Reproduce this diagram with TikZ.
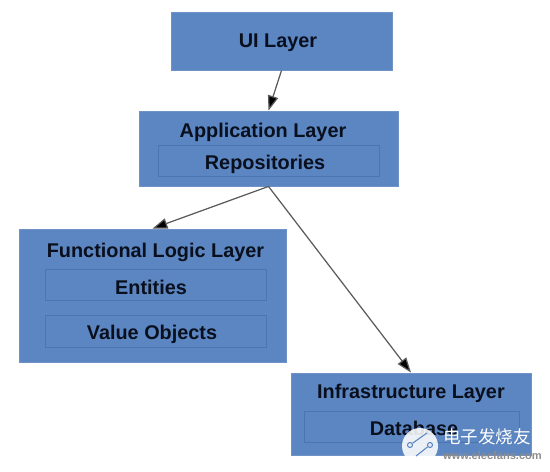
\documentclass[tikz,border=0pt]{standalone}
\usepackage{fontspec}
\setmainfont{Liberation Sans}
\newfontfamily\cjkfont{Noto Sans CJK SC}
\usetikzlibrary{arrows.meta}
\definecolor{layerBlue}{HTML}{5B86C1}
\definecolor{layerEdge}{HTML}{6F93C6}
\definecolor{innerEdge}{HTML}{4A75AE}
\definecolor{labelInk}{HTML}{0A0F1E}
\definecolor{linkGray}{HTML}{5A5A5A}
\tikzset{
  layerbox/.style={draw=layerEdge, fill=layerBlue, line width=0.5pt, inner sep=0pt},
  innerbox/.style={draw=innerEdge, line width=0.5pt, inner sep=0pt},
  layertext/.style={font=\fontsize{11.3}{13}\selectfont\bfseries, text=labelInk, inner sep=0pt},
  link/.style={draw=linkGray, line width=0.7pt, -{Triangle[length=8.5pt, width=6pt, fill=black]}}
}
\begin{document}
\begin{tikzpicture}[x=0.02cm, y=-0.02cm]
  \useasboundingbox (0,0) rectangle (550,472);
  % layers
  \node[layerbox, minimum width=221*0.02cm, minimum height=58*0.02cm] (ui) at (281.5,41) {};
  \node[layerbox, minimum width=259*0.02cm, minimum height=75*0.02cm] (app) at (268.5,148.5) {};
  \node[layerbox, minimum width=267*0.02cm, minimum height=133*0.02cm] (func) at (152.5,295.5) {};
  \node[layerbox, minimum width=240*0.02cm, minimum height=82*0.02cm] (infra) at (411,414) {};
  % inner boxes
  \node[innerbox, minimum width=221*0.02cm, minimum height=31*0.02cm] (repo) at (268.5,160.5) {};
  \node[innerbox, minimum width=221*0.02cm, minimum height=31*0.02cm] (entities) at (155.5,284.5) {};
  \node[innerbox, minimum width=221*0.02cm, minimum height=32*0.02cm] (values) at (155.5,331) {};
  \node[innerbox, minimum width=215*0.02cm, minimum height=31*0.02cm] (db) at (411.5,426.5) {};
  % labels
  \node[layertext] (uitext) at (278,43) {UI Layer};
  \node[layertext] (apptitle) at (263,132.5) {Application Layer};
  \node[layertext] (repotext) at (265,164.5) {Repositories};
  \node[layertext] (functitle) at (155.5,252.5) {Functional Logic Layer};
  \node[layertext] (entitiestext) at (151,287.5) {Entities};
  \node[layertext] (valuestext) at (152,334.5) {Value Objects};
  \node[layertext] (infratitle) at (411,393.5) {Infrastructure Layer};
  \node[layertext] (dbtext) at (414,428.5) {Database};
  % links
  \draw[link] (ui.south) -- (app.north);
  \draw[link] (app.south) -- (func.north);
  \draw[link] (app.south) -- (infra.north);
  % watermark
  \node[circle, fill=white, fill opacity=0.88, minimum size=36*0.02cm, inner sep=0pt] (mark) at (420,446) {};
  \node[circle, draw=layerBlue, line width=0.6pt, minimum size=5*0.02cm, inner sep=0pt] (markA) at (410,445) {};
  \node[circle, draw=layerBlue, line width=0.6pt, minimum size=5*0.02cm, inner sep=0pt] (markB) at (430,445) {};
  \coordinate (markC) at (427,433);
  \coordinate (markD) at (416,456);
  \draw[layerBlue, line width=0.6pt] (markA) -- (markC);
  \draw[layerBlue, line width=0.6pt] (markB) -- (markD);
  \node[font=\cjkfont\fontsize{10}{12}\selectfont, text=white, inner sep=0pt] (marktext) at (487,437) {电子发烧友};
  \node[font=\fontsize{6.3}{8}\selectfont\bfseries, text=black!45, inner sep=0pt] (markurl) at (492.5,456) {www.elecfans.com};
\end{tikzpicture}
\end{document}
